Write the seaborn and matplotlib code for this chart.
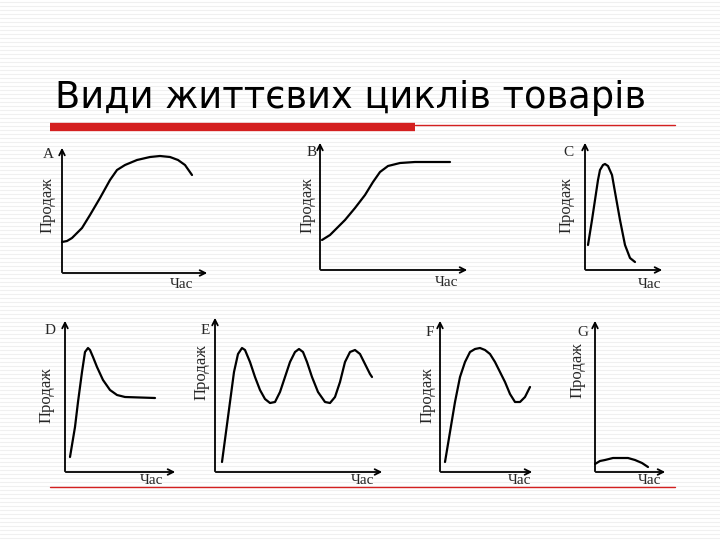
import matplotlib
matplotlib.use("Agg")
import matplotlib.pyplot as plt
import seaborn as sns

sns.set_style("white")
plt.rcParams['font.family'] = ['DejaVu Sans']

title = "Види життєвих циклів товарів"
letters = ["A", "B", "C", "D", "E", "F", "G"]

# curves: time offset and sales level (pixels from each panel's origin)
time_a = [0, 5, 10, 20, 28, 38, 48, 55, 63, 75, 88, 98, 108, 116, 123, 130]
sales_a = [31, 32, 35, 45, 58, 75, 93, 103, 108, 113, 116, 117, 116, 113, 108, 98]
time_b = [2, 10, 25, 35, 45, 53, 60, 68, 80, 95, 130]
sales_b = [30, 35, 50, 62, 75, 88, 98, 104, 107, 108, 108]
time_c = [3, 7, 10, 13, 15, 18, 20, 23, 27, 30, 35, 40, 45, 50]
sales_c = [25, 50, 70, 90, 100, 105, 106, 104, 95, 78, 50, 25, 12, 8]
time_d = [5, 10, 13, 17, 20, 23, 25, 28, 32, 38, 45, 52, 60, 90]
sales_d = [15, 45, 70, 100, 120, 124, 122, 115, 105, 92, 82, 77, 75, 74]
time_e = [7, 11, 15, 19, 23, 27, 30, 35, 40, 45, 50, 55, 60, 65, 70, 75, 80, 84, 88,
          92, 97, 103, 110, 115, 120, 125, 130, 135, 140, 145, 150, 155, 157]
sales_e = [10, 40, 70, 100, 118, 124, 122, 110, 95, 82, 73, 69, 70, 80, 95, 110, 120, 123,
           120, 110, 95, 80, 70, 69, 75, 90, 110, 120, 122, 118, 108, 98, 95]
time_f = [5, 10, 15, 20, 25, 30, 35, 40, 45, 50, 55, 60, 65, 70, 75, 80, 85, 90]
sales_f = [10, 40, 70, 95, 110, 120, 123, 124, 122, 118, 110, 100, 90, 78, 70, 70, 75, 85]
time_g = [0, 5, 10, 18, 25, 33, 40, 47, 53]
sales_g = [8, 11, 12, 14, 14, 14, 12, 9, 5]

curves = [(time_a, sales_a), (time_b, sales_b), (time_c, sales_c), (time_d, sales_d),
          (time_e, sales_e), (time_f, sales_f), (time_g, sales_g)]

# layout: origin x, origin y, x end, y top, letter pos, ylabel pos, xlabel pos
panels = [
    (62, 273, 210, 145, (48, 155), (48, 205), (182, 285)),
    (320, 270, 470, 140, (312, 152), (308, 205), (447, 283)),
    (585, 270, 665, 140, (568, 152), (567, 205), (650, 285)),
    (65, 472, 178, 318, (50, 330), (47, 395), (152, 481)),
    (215, 472, 385, 315, (205, 330), (202, 372), (363, 481)),
    (440, 472, 535, 318, (430, 333), (428, 395), (520, 481)),
    (595, 472, 668, 318, (583, 333), (578, 370), (650, 481)),
]

fig = plt.figure(figsize=(7.2, 5.4), dpi=100)
ax = fig.add_axes([0, 0, 1, 1])
ax.set_xlim(0, 720)
ax.set_ylim(540, 0)
ax.axis("off")

for yy in range(2, 540, 4):
    ax.axhline(yy, color="#f0f0f0", lw=0.8, zorder=0)

ax.text(55, 97, title, fontsize=26.5, va="center", ha="left", color="black")
ax.plot([50, 415], [127, 127], color="#d42020", lw=6, solid_capstyle="butt")
ax.plot([415, 675], [125, 125], color="#d42020", lw=1)
ax.plot([50, 675], [487, 487], color="#d42020", lw=1)

serif = "Liberation Serif"
arrow = dict(arrowstyle="->", color="black", lw=1.3)
for (ox, oy, xe, yt, lp, yp, xp), letter, (tt, ss) in zip(panels, letters, curves):
    ax.annotate("", xy=(xe, oy), xytext=(ox - 2, oy), arrowprops=arrow)
    ax.annotate("", xy=(ox, yt), xytext=(ox, oy + 2), arrowprops=arrow)
    sns.lineplot(x=[ox + t for t in tt], y=[oy - s for s in ss], ax=ax,
                 sort=False, color="black", lw=1.6)
    ax.text(lp[0], lp[1], letter, family=serif, fontsize=11, ha="center", va="center")
    ax.text(yp[0], yp[1], "Продаж", family=serif, fontsize=12, rotation=90,
            ha="center", va="center")
    ax.text(xp[0], xp[1], "Час", family=serif, fontsize=11, ha="center", va="center")

fig.savefig("out.png", dpi=100)
